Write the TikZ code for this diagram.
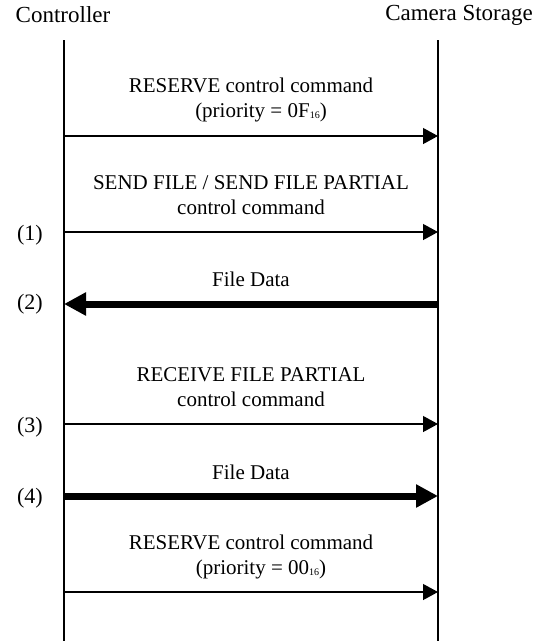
\documentclass[tikz,border=0pt]{standalone}
\usepackage{fontspec}
\setmainfont{Liberation Serif}
\usetikzlibrary{arrows.meta}
\newcommand{\hexsub}[1]{\raisebox{-1pt}{\fontsize{10}{10}\selectfont #1}}

\begin{document}
\begin{tikzpicture}[
  x=1pt, y=-1pt,
  lbl/.style={font=\fontsize{21}{25}\selectfont, align=center, inner sep=0pt},
  head/.style={font=\fontsize{23}{27}\selectfont, inner sep=0pt},
  life/.style={line width=1.4pt},
  msg/.style={line width=1.2pt, -{Triangle[length=15pt, width=16pt]}},
  bulk/.style={line width=7pt, -{Triangle[length=22pt, width=22pt]}},
]
\useasboundingbox (0,0) rectangle (535,641);

% Header
\node[head] (ctrl) at (63,15) {Controller};
\node[head, anchor=east] (stor) at (533,15) {Camera Storage};

% Lifelines
\coordinate (ctop) at (64,40);
\coordinate (cbot) at (64,641);
\coordinate (stop) at (438,40);
\coordinate (sbot) at (438,641);
\draw[life] (ctop) -- (cbot);
\draw[life] (stop) -- (sbot);

% Message points
\foreach \n/\y in {0/136,1/232,2/304,3/424,4/496,5/592} {
  \coordinate (c\n) at (64,\y);
  \coordinate (s\n) at (438,\y);
}

% Messages
\node[lbl] (m0) at (251,100) {RESERVE control command\\\hspace*{20pt}(priority = 0F\hexsub{16})};
\draw[msg] (c0) -- (s0);

\node[lbl] (m1) at (251,195) {SEND FILE / SEND FILE PARTIAL\\control command};
\draw[msg] (c1) -- (s1);

\node[lbl] (m2) at (251,279) {File Data};
\draw[bulk] (s2) -- (c2);

\node[lbl] (m3) at (251,387) {RECEIVE FILE PARTIAL\\control command};
\draw[msg] (c3) -- (s3);

\node[lbl] (m4) at (251,472) {File Data};
\draw[bulk] (c4) -- (s4);

\node[lbl] (m5) at (251,557) {RESERVE control command\\\hspace*{20pt}(priority = 00\hexsub{16})};
\draw[msg] (c5) -- (s5);

% Step numbers
\foreach \k/\y in {1/235,2/304,3/427,4/498} {
  \node[lbl, font=\fontsize{22}{26}\selectfont] (n\k) at (30,\y) {(\k)};
}
\end{tikzpicture}
\end{document}
